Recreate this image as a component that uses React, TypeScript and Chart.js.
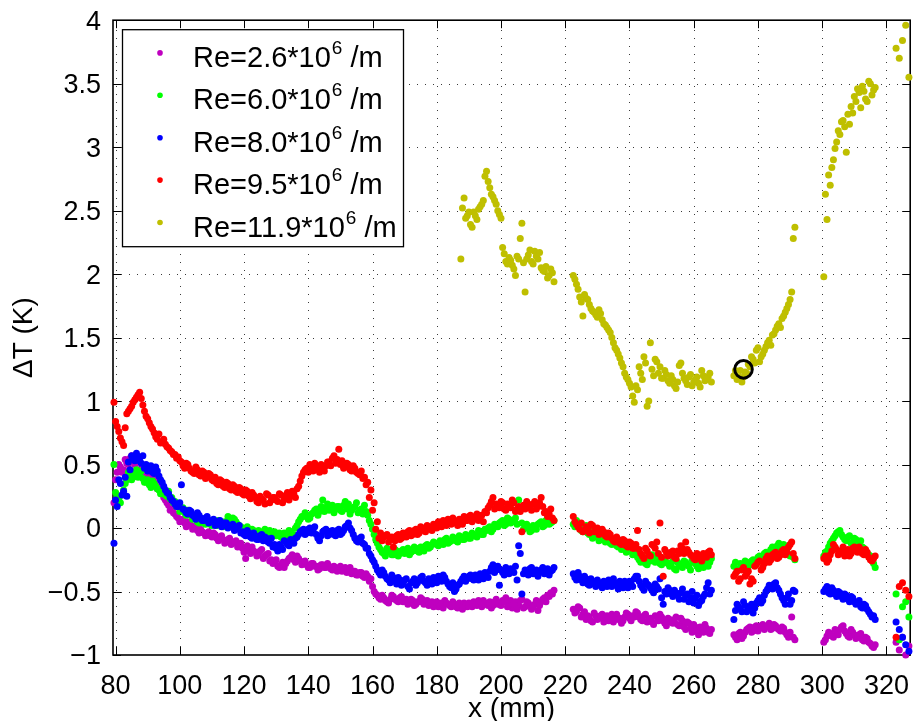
import React, { useEffect, useRef } from 'react';
import { Chart, registerables } from 'chart.js';

Chart.register(...registerables);

const FONT = "'Liberation Sans', Arial, Helvetica, sans-serif";

// ---------- axes ----------
const xMin = 79.2;
const xMax = 327.4;
const yMin = -1;
const yMax = 4;
const xTicks = [80, 100, 120, 140, 160, 180, 200, 220, 240, 260, 280, 300, 320];
const xTickLabels = ['80', '100', '120', '140', '160', '180', '200', '220', '240', '260', '280', '300', '320'];
const yTicks = [-1, -0.5, 0, 0.5, 1, 1.5, 2, 2.5, 3, 3.5, 4];
const yTickLabels = ['\u22121', '\u22120.5', '0', '0.5', '1', '1.5', '2', '2.5', '3', '3.5', '4'];
const xTitle = 'x (mm)';
const yTitle = '\u0394T (K)';

// ---------- legend ----------
const reValues = ['2.6', '6.0', '8.0', '9.5', '11.9'];
const seriesColors = ['rgb(191,0,191)', 'rgb(0,255,0)', 'rgb(0,0,255)', 'rgb(255,0,0)', 'rgb(191,191,0)'];

// ---------- measurement positions (mm), first pass ----------
const xA = [
  79.5, 80.5, 81.5, 82.5, 83.5, 84.5, 85.5, 86.5, 87.5, 88.5,
  89.5, 90.5, 91.5, 92.5, 93.5, 94.5, 95.5, 96.5, 97.5, 98.5,
  99.5, 100.5, 101.5, 102.5, 103.5, 104.5, 105.5, 106.5, 107.5, 108.5,
  109.5, 110.5, 111.5, 112.5, 113.5, 114.5, 115.5, 116.5, 117.5, 118.5,
  119.5, 120.5, 121.5, 122.5, 123.5, 124.5, 125.5, 126.5, 127.5, 128.5,
  129.5, 130.5, 131.5, 132.5, 133.5, 134.5, 135.5, 136.5, 137.5, 138.5,
  139.5, 140.5, 141.5, 142.5, 143.5, 144.5, 145.5, 146.5, 147.5, 148.5,
  149.5, 150.5, 151.5, 152.5, 153.5, 154.5, 155.5, 156.5, 157.5, 158.5,
  159.5, 160.5, 161.5, 162.5, 163.5, 164.5, 165.5, 166.5, 167.5, 168.5,
  169.5, 170.5, 171.5, 172.5, 173.5, 174.5, 175.5, 176.5, 177.5, 178.5,
  179.5, 180.5, 181.5, 182.5, 183.5, 184.5, 185.5, 186.5, 187.5, 188.5,
  189.5, 190.5, 191.5, 192.5, 193.5, 194.5, 195.5, 196.5, 197.5, 198.5,
  199.5, 200.5, 201.5, 202.5, 203.5, 204.5, 205.5, 206.5, 207.5, 208.5,
  209.5, 210.5, 211.5, 212.5, 213.5, 214.5, 215.5, 216.5,
];
const xB = [
  222.5, 223.5, 224.5, 225.5, 226.5, 227.5, 228.5, 229.5, 230.5, 231.5,
  232.5, 233.5, 234.5, 235.5, 236.5, 237.5, 238.5, 239.5, 240.5, 241.5,
  242.5, 243.5, 244.5, 245.5, 246.5, 247.5, 248.5, 249.5, 250.5, 251.5,
  252.5, 253.5, 254.5, 255.5, 256.5, 257.5, 258.5, 259.5, 260.5, 261.5,
  262.5, 263.5, 264.5, 265.5,
];
const xC = [
  272.5, 273.5, 274.5, 275.5, 276.5, 277.5, 278.5, 279.5, 280.5, 281.5,
  282.5, 283.5, 284.5, 285.5, 286.5, 287.5, 288.5, 289.5, 290.5, 291.5,
];
const xD = [
  300.5, 301.5, 302.5, 303.5, 304.5, 305.5, 306.5, 307.5, 308.5, 309.5,
  310.5, 311.5, 312.5, 313.5, 314.5, 315.5, 316.5,
];
const xE = [323, 324, 325, 326, 327];

// ---------- measurement positions (mm), second pass ----------
const xA2 = [
  80, 81, 82, 83, 84, 85, 86, 87, 88, 89,
  90, 91, 92, 93, 94, 95, 96, 97, 98, 99,
  100, 101, 102, 103, 104, 105, 106, 107, 108, 109,
  110, 111, 112, 113, 114, 115, 116, 117, 118, 119,
  120, 121, 122, 123, 124, 125, 126, 127, 128, 129,
  130, 131, 132, 133, 134, 135, 136, 137, 138, 139,
  140, 141, 142, 143, 144, 145, 146, 147, 148, 149,
  150, 151, 152, 153, 154, 155, 156, 157, 158, 159,
  160, 161, 162, 163, 164, 165, 166, 167, 168, 169,
  170, 171, 172, 173, 174, 175, 176, 177, 178, 179,
  180, 181, 182, 183, 184, 185, 186, 187, 188, 189,
  190, 191, 192, 193, 194, 195, 196, 197, 198, 199,
  200, 201, 202, 203, 204, 205, 206, 207, 208, 209,
  210, 211, 212, 213, 214, 215, 216,
];
const xB2 = [
  223, 224, 225, 226, 227, 228, 229, 230, 231, 232,
  233, 234, 235, 236, 237, 238, 239, 240, 241, 242,
  243, 244, 245, 246, 247, 248, 249, 250, 251, 252,
  253, 254, 255, 256, 257, 258, 259, 260, 261, 262,
  263, 264, 265,
];
const xC2 = [
  273, 274, 275, 276, 277, 278, 279, 280, 281, 282,
  283, 284, 285, 286, 287, 288, 289, 290, 291,
];
const xD2 = [
  301, 302, 303, 304, 305, 306, 307, 308, 309, 310,
  311, 312, 313, 314, 315, 316,
];

// ---------- Re = 2.6e6 /m (magenta) ----------
const magentaA = [
  0.20, 0.44, 0.48, 0.46, 0.51, 0.55, 0.53, 0.57, 0.52, 0.49,
  0.45, 0.40, 0.37, 0.33, 0.35, 0.28, 0.22, 0.18, 0.15, 0.11,
  0.08, 0.06, 0.04, 0.05, 0.02, 0.00, -0.02, -0.01, -0.04, -0.05,
  -0.06, -0.04, -0.08, -0.07, -0.09, -0.11, -0.08, -0.12, -0.10, -0.13,
  -0.16, -0.24, -0.17, -0.15, -0.19, -0.21, -0.17, -0.22, -0.20, -0.25,
  -0.27, -0.30, -0.29, -0.31, -0.26, -0.23, -0.25, -0.22, -0.26, -0.28,
  -0.29, -0.31, -0.28, -0.30, -0.32, -0.29, -0.31, -0.30, -0.33, -0.31,
  -0.32, -0.34, -0.31, -0.33, -0.36, -0.34, -0.37, -0.35, -0.39, -0.38,
  -0.40, -0.50, -0.53, -0.56, -0.55, -0.58, -0.56, -0.54, -0.57, -0.55,
  -0.58, -0.56, -0.59, -0.57, -0.60, -0.58, -0.56, -0.59, -0.61, -0.58,
  -0.60, -0.62, -0.59, -0.57, -0.60, -0.62, -0.60, -0.63, -0.61, -0.59,
  -0.62, -0.60, -0.58, -0.61, -0.59, -0.57, -0.60, -0.58, -0.61, -0.56,
  -0.59, -0.57, -0.55, -0.60, -0.63, -0.58, -0.61, -0.56, -0.62, -0.59,
  -0.64, -0.60, -0.65, -0.58, -0.55, -0.53, -0.51, -0.49,
];
const magentaA2 = [
  0.38, 0.50, 0.44, 0.54, 0.50, 0.57, 0.50, 0.55, 0.47, 0.44,
  0.41, 0.36, 0.39, 0.31, 0.30, 0.24, 0.20, 0.14, 0.12, 0.09,
  0.05, 0.07, 0.01, 0.03, -0.01, 0.02, -0.04, -0.03, -0.06, -0.03,
  -0.07, -0.05, -0.10, -0.06, -0.12, -0.09, -0.13, -0.11, -0.15, -0.12,
  -0.19, -0.14, -0.20, -0.18, -0.22, -0.18, -0.24, -0.21, -0.26, -0.28,
  -0.25, -0.31, -0.27, -0.28, -0.24, -0.21, -0.27, -0.24, -0.29, -0.26,
  -0.31, -0.28, -0.30, -0.33, -0.29, -0.31, -0.28, -0.32, -0.30, -0.34,
  -0.30, -0.33, -0.35, -0.31, -0.34, -0.37, -0.35, -0.38, -0.36, -0.42,
  -0.46, -0.52, -0.55, -0.53, -0.57, -0.59, -0.53, -0.56, -0.58, -0.54,
  -0.57, -0.60, -0.56, -0.61, -0.58, -0.55, -0.60, -0.57, -0.59, -0.62,
  -0.58, -0.61, -0.63, -0.59, -0.61, -0.58, -0.62, -0.59, -0.64, -0.60,
  -0.59, -0.62, -0.60, -0.57, -0.62, -0.59, -0.61, -0.63, -0.58, -0.60,
  -0.61, -0.58, -0.62, -0.57, -0.60, -0.64, -0.57, -0.63, -0.58, -0.61,
  -0.62, -0.57, -0.61, -0.56, -0.58, -0.54, -0.52,
];
const magentaB = [
  -0.64, -0.66, -0.63, -0.68, -0.72, -0.70, -0.74, -0.69, -0.71, -0.68,
  -0.71, -0.73, -0.68, -0.70, -0.72, -0.75, -0.70, -0.68, -0.73, -0.70,
  -0.67, -0.72, -0.69, -0.74, -0.71, -0.76, -0.70, -0.68, -0.73, -0.77,
  -0.72, -0.75, -0.70, -0.77, -0.73, -0.80, -0.75, -0.82, -0.78, -0.84,
  -0.79, -0.76, -0.82, -0.80,
];
const magentaB2 = [
  -0.67, -0.62, -0.70, -0.66, -0.69, -0.73, -0.67, -0.72, -0.69, -0.74,
  -0.69, -0.72, -0.74, -0.68, -0.71, -0.73, -0.67, -0.71, -0.69, -0.66,
  -0.70, -0.73, -0.68, -0.72, -0.74, -0.69, -0.73, -0.70, -0.75, -0.71,
  -0.74, -0.72, -0.76, -0.71, -0.78, -0.74, -0.79, -0.76, -0.81, -0.78,
  -0.82, -0.79, -0.83,
];
const magentaC = [
  -0.84, -0.88, -0.82, -0.85, -0.80, -0.78, -0.81, -0.77, -0.79, -0.76,
  -0.78, -0.75, -0.79, -0.77, -0.80, -0.78, -0.82, -0.86, -0.70, -0.88,
];
const magentaC2 = [
  -0.86, -0.83, -0.87, -0.82, -0.79, -0.82, -0.78, -0.81, -0.77, -0.80,
  -0.77, -0.80, -0.76, -0.79, -0.81, -0.79, -0.84, -0.82, -0.86,
];
const magentaD = [
  -0.90, -0.85, -0.83, -0.86, -0.82, -0.80, -0.77, -0.83, -0.86, -0.82,
  -0.87, -0.84, -0.88, -0.86, -0.90, -0.93, -0.92,
];
const magentaD2 = [
  -0.88, -0.82, -0.85, -0.80, -0.84, -0.78, -0.81, -0.85, -0.80, -0.84,
  -0.86, -0.83, -0.89, -0.87, -0.91, -0.94,
];
const magentaE = [-0.90, -0.96, -0.86, -1.0, -0.93];

// ---------- Re = 6.0e6 /m (green) ----------
const greenA = [
  0.50, 0.25, 0.20, 0.30, 0.38, 0.42, 0.40, 0.46, 0.42, 0.39,
  0.36, 0.34, 0.37, 0.33, 0.30, 0.28, 0.26, 0.29, 0.24, 0.21,
  0.18, 0.15, 0.12, 0.14, 0.10, 0.08, 0.05, 0.07, 0.04, 0.06,
  0.03, 0.05, 0.02, 0.04, 0.01, 0.03, 0.06, 0.08, 0.05, 0.02,
  0.00, -0.02, -0.04, -0.01, -0.03, -0.02, -0.05, -0.01, -0.04, -0.06,
  -0.03, -0.05, -0.07, -0.04, -0.06, -0.03, -0.05, 0.02, 0.07, 0.09,
  0.10, 0.08, 0.12, 0.15, 0.13, 0.22, 0.16, 0.14, 0.18, 0.15,
  0.17, 0.13, 0.21, 0.19, 0.14, 0.17, 0.12, 0.15, 0.18, 0.10,
  0.03, -0.05, -0.12, -0.17, -0.20, -0.16, -0.19, -0.21, -0.18, -0.20,
  -0.17, -0.19, -0.21, -0.18, -0.16, -0.19, -0.17, -0.14, -0.16, -0.13,
  -0.12, -0.14, -0.11, -0.09, -0.12, -0.10, -0.08, -0.11, -0.07, -0.09,
  -0.06, -0.08, -0.05, -0.07, -0.03, -0.05, -0.02, 0.01, -0.01, 0.02,
  0.04, 0.06, 0.03, 0.07, 0.05, 0.08, 0.22, 0.04, 0.02, 0.00,
  -0.02, 0.01, 0.03, 0.05, 0.02, 0.07, 0.04, 0.06,
];
const greenA2 = [
  0.28, 0.22, 0.26, 0.35, 0.44, 0.38, 0.44, 0.40, 0.45, 0.36,
  0.38, 0.32, 0.35, 0.31, 0.27, 0.31, 0.25, 0.23, 0.20, 0.17,
  0.13, 0.16, 0.10, 0.12, 0.07, 0.09, 0.04, 0.06, 0.03, 0.05,
  0.02, 0.04, 0.06, 0.02, 0.05, 0.09, 0.04, 0.07, 0.03, 0.01,
  -0.03, 0.01, -0.05, -0.02, -0.06, -0.03, -0.07, -0.04, -0.02, -0.05,
  -0.06, -0.04, -0.08, -0.05, -0.02, -0.07, 0.00, 0.05, 0.09, 0.12,
  0.07, 0.11, 0.14, 0.10, 0.17, 0.13, 0.19, 0.16, 0.12, 0.17,
  0.14, 0.18, 0.15, 0.11, 0.16, 0.20, 0.14, 0.11, 0.13, 0.06,
  -0.01, -0.09, -0.15, -0.19, -0.22, -0.18, -0.21, -0.17, -0.22, -0.18,
  -0.20, -0.16, -0.19, -0.15, -0.18, -0.15, -0.18, -0.13, -0.15, -0.11,
  -0.13, -0.10, -0.13, -0.08, -0.11, -0.07, -0.10, -0.06, -0.09, -0.05,
  -0.08, -0.04, -0.06, -0.02, -0.05, -0.01, 0.00, -0.03, 0.03, 0.01,
  0.05, 0.02, 0.08, 0.04, 0.06, 0.03, 0.15, -0.01, 0.03, -0.03,
  0.02, -0.01, 0.04, 0.01, 0.06, 0.03, 0.05,
];
const greenB = [
  0.03, 0.06, 0.00, -0.03, 0.02, -0.05, -0.08, -0.06, -0.10, -0.07,
  -0.11, -0.09, -0.13, -0.10, -0.15, -0.17, -0.14, -0.18, -0.16, -0.20,
  -0.23, -0.27, -0.24, -0.29, -0.26, -0.22, -0.25, -0.28, -0.24, -0.27,
  -0.30, -0.26, -0.33, -0.29, -0.31, -0.27, -0.30, -0.25, -0.28, -0.32,
  -0.29, -0.26, -0.30, -0.24,
];
const greenB2 = [
  0.01, 0.04, -0.02, 0.00, -0.04, -0.02, -0.07, -0.04, -0.09, -0.06,
  -0.08, -0.12, -0.10, -0.14, -0.12, -0.16, -0.19, -0.15, -0.21, -0.18,
  -0.25, -0.22, -0.28, -0.24, -0.21, -0.27, -0.23, -0.29, -0.26, -0.28,
  -0.28, -0.32, -0.27, -0.30, -0.26, -0.29, -0.33, -0.27, -0.30, -0.27,
  -0.31, -0.28, -0.27,
];
const greenC = [
  -0.30, -0.33, -0.28, -0.31, -0.27, -0.29, -0.25, -0.27, -0.22, -0.24,
  -0.19, -0.21, -0.15, -0.17, -0.12, -0.16, -0.19, -0.14, -0.21, -0.25,
];
const greenC2 = [
  -0.27, -0.32, -0.29, -0.26, -0.30, -0.26, -0.28, -0.23, -0.26, -0.20,
  -0.22, -0.17, -0.19, -0.14, -0.18, -0.13, -0.17, -0.22, -0.23,
];
const greenD = [
  -0.22, -0.18, -0.12, -0.08, -0.04, -0.02, -0.07, -0.10, -0.06, -0.11,
  -0.09, -0.13, -0.15, -0.18, -0.21, -0.24, -0.31,
];
const greenD2 = [
  -0.19, -0.15, -0.10, -0.06, -0.03, -0.05, -0.09, -0.07, -0.12, -0.08,
  -0.12, -0.10, -0.16, -0.20, -0.22, -0.28,
];
const greenE = [-0.52, -0.88, -0.62, -0.58, -0.70];

// ---------- Re = 8.0e6 /m (blue) ----------
const blueA = [
  -0.12, 0.17, 0.35, 0.29, 0.25, 0.46, 0.55, 0.59, 0.53, 0.57,
  0.50, 0.47, 0.44, 0.48, 0.41, 0.36, 0.30, 0.27, 0.22, 0.19,
  0.17, 0.34, 0.14, 0.11, 0.13, 0.09, 0.12, 0.08, 0.06, 0.09,
  0.05, 0.07, 0.03, 0.06, 0.02, 0.04, 0.01, 0.03, -0.01, 0.02,
  -0.03, -0.06, -0.04, -0.08, -0.06, -0.09, -0.05, -0.07, -0.11, -0.08,
  -0.13, -0.18, -0.15, -0.10, -0.13, -0.09, -0.12, -0.07, -0.03, -0.01,
  -0.04, 0.00, -0.02, -0.05, -0.10, -0.03, -0.01, -0.05, -0.02, -0.06,
  -0.01, -0.04, 0.01, 0.04, -0.02, -0.08, -0.11, -0.07, -0.13, -0.16,
  -0.22, -0.27, -0.33, -0.37, -0.35, -0.40, -0.43, -0.39, -0.44, -0.41,
  -0.44, -0.40, -0.48, -0.42, -0.45, -0.41, -0.38, -0.43, -0.40, -0.44,
  -0.41, -0.38, -0.42, -0.39, -0.44, -0.47, -0.50, -0.45, -0.42, -0.38,
  -0.40, -0.37, -0.41, -0.39, -0.36, -0.40, -0.38, -0.34, -0.29, -0.33,
  -0.45, -0.35, -0.31, -0.36, -0.33, -0.30, -0.14, -0.52, -0.33, -0.37,
  -0.31, -0.35, -0.38, -0.33, -0.36, -0.32, -0.34, -0.31,
];
const blueA2 = [
  0.22, 0.38, 0.26, 0.40, 0.52, 0.57, 0.53, 0.56, 0.51, 0.47,
  0.45, 0.49, 0.43, 0.45, 0.38, 0.33, 0.28, 0.24, 0.21, 0.17,
  0.20, 0.15, 0.12, 0.14, 0.10, 0.07, 0.10, 0.06, 0.08, 0.04,
  0.06, 0.02, 0.05, 0.01, 0.04, 0.00, 0.02, -0.02, 0.01, -0.04,
  -0.05, -0.02, -0.07, -0.04, -0.09, -0.06, -0.10, -0.08, -0.12, -0.15,
  -0.16, -0.13, -0.17, -0.11, -0.14, -0.10, -0.08, -0.05, -0.02, -0.05,
  -0.01, -0.04, 0.01, -0.08, -0.06, -0.02, -0.06, -0.03, -0.05, -0.02,
  -0.05, -0.02, 0.02, 0.00, -0.05, -0.10, -0.08, -0.12, -0.16, -0.20,
  -0.25, -0.30, -0.35, -0.33, -0.38, -0.41, -0.37, -0.42, -0.39, -0.45,
  -0.41, -0.46, -0.43, -0.40, -0.43, -0.39, -0.42, -0.45, -0.41, -0.39,
  -0.43, -0.40, -0.37, -0.42, -0.46, -0.43, -0.48, -0.44, -0.40, -0.42,
  -0.38, -0.40, -0.37, -0.41, -0.38, -0.35, -0.39, -0.31, -0.35, -0.30,
  -0.33, -0.37, -0.34, -0.32, -0.35, -0.41, -0.20, -0.36, -0.35, -0.32,
  -0.36, -0.33, -0.35, -0.31, -0.34, -0.37, -0.33,
];
const blueB = [
  -0.36, -0.41, -0.38, -0.43, -0.40, -0.45, -0.42, -0.46, -0.43, -0.47,
  -0.44, -0.41, -0.46, -0.43, -0.48, -0.45, -0.42, -0.47, -0.44, -0.40,
  -0.38, -0.45, -0.49, -0.44, -0.47, -0.51, -0.46, -0.40, -0.60, -0.52,
  -0.49, -0.54, -0.51, -0.56, -0.48, -0.53, -0.58, -0.50, -0.55, -0.61,
  -0.57, -0.52, -0.43, -0.49,
];
const blueB2 = [
  -0.39, -0.35, -0.41, -0.38, -0.44, -0.40, -0.44, -0.41, -0.45, -0.42,
  -0.46, -0.43, -0.40, -0.45, -0.42, -0.47, -0.44, -0.42, -0.46, -0.38,
  -0.42, -0.47, -0.42, -0.45, -0.49, -0.44, -0.48, -0.55, -0.50, -0.47,
  -0.52, -0.49, -0.53, -0.51, -0.56, -0.52, -0.55, -0.59, -0.53, -0.58,
  -0.54, -0.47, -0.52,
];
const blueC = [
  -0.72, -0.60, -0.64, -0.58, -0.66, -0.62, -0.67, -0.59, -0.55, -0.57,
  -0.50, -0.45, -0.48, -0.43, -0.49, -0.55, -0.60, -0.52, -0.57, -0.50,
];
const blueC2 = [
  -0.65, -0.62, -0.66, -0.61, -0.64, -0.60, -0.63, -0.57, -0.59, -0.53,
  -0.48, -0.47, -0.44, -0.47, -0.52, -0.57, -0.55, -0.60, -0.49,
];
const blueD = [
  -0.50, -0.46, -0.52, -0.49, -0.54, -0.51, -0.56, -0.53, -0.58, -0.55,
  -0.60, -0.57, -0.63, -0.61, -0.66, -0.70, -0.72,
];
const blueD2 = [
  -0.48, -0.51, -0.47, -0.52, -0.50, -0.54, -0.52, -0.56, -0.54, -0.58,
  -0.59, -0.62, -0.60, -0.64, -0.68, -0.69,
];
const blueE = [-0.74, -0.80, -0.86, -0.92, -0.97];

// ---------- Re = 9.5e6 /m (red) ----------
const redA = [
  0.99, 0.80, 0.71, 0.65, 0.90, 0.94, 0.99, 1.03, 1.07, 0.97,
  0.88, 0.83, 0.78, 0.72, 0.74, 0.68, 0.66, 0.63, 0.60, 0.58,
  0.56, 0.52, 0.47, 0.50, 0.45, 0.43, 0.46, 0.41, 0.44, 0.40,
  0.42, 0.37, 0.35, 0.38, 0.33, 0.36, 0.31, 0.34, 0.29, 0.32,
  0.27, 0.30, 0.25, 0.28, 0.24, 0.20, 0.23, 0.19, 0.26, 0.22,
  0.24, 0.21, 0.26, 0.23, 0.28, 0.25, 0.27, 0.31, 0.37, 0.44,
  0.47, 0.50, 0.45, 0.48, 0.44, 0.47, 0.49, 0.52, 0.55, 0.51,
  0.62, 0.53, 0.48, 0.50, 0.45, 0.47, 0.43, 0.45, 0.40, 0.36,
  0.30, 0.20, 0.05, -0.04, -0.07, -0.05, -0.08, -0.15, -0.06, -0.09,
  -0.04, -0.07, -0.02, -0.05, -0.01, -0.04, 0.00, -0.03, 0.01, -0.02,
  0.02, 0.05, 0.01, 0.04, 0.07, 0.03, 0.05, 0.02, 0.06, 0.09,
  0.06, 0.10, 0.07, 0.11, 0.08, 0.05, 0.12, 0.18, 0.24, 0.19,
  0.16, 0.20, 0.14, 0.18, 0.22, 0.13, 0.17, -0.03, 0.15, 0.19,
  0.14, 0.21, 0.17, 0.24, 0.12, 0.09, 0.15, 0.06,
];
const redA2 = [
  0.84, 0.76, 0.68, 0.79, 0.92, 0.96, 1.01, 1.05, 1.02, 0.92,
  0.86, 0.80, 0.75, 0.70, 0.67, 0.70, 0.64, 0.61, 0.58, 0.55,
  0.53, 0.49, 0.51, 0.47, 0.44, 0.48, 0.42, 0.45, 0.39, 0.43,
  0.38, 0.40, 0.34, 0.37, 0.32, 0.35, 0.30, 0.33, 0.28, 0.31,
  0.26, 0.29, 0.23, 0.26, 0.21, 0.25, 0.22, 0.27, 0.20, 0.24,
  0.22, 0.27, 0.20, 0.25, 0.22, 0.29, 0.24, 0.33, 0.41, 0.46,
  0.44, 0.48, 0.51, 0.46, 0.50, 0.45, 0.52, 0.49, 0.57, 0.54,
  0.50, 0.47, 0.51, 0.46, 0.49, 0.44, 0.42, 0.39, 0.34, 0.24,
  0.14, -0.01, -0.08, -0.10, -0.06, -0.11, -0.07, -0.10, -0.05, -0.08,
  -0.06, -0.03, -0.06, -0.02, -0.05, 0.01, -0.02, 0.02, -0.01, 0.03,
  0.00, 0.03, 0.06, 0.02, 0.05, 0.08, 0.04, 0.07, 0.03, 0.06,
  0.09, 0.05, 0.09, 0.06, 0.10, 0.13, 0.16, 0.21, 0.15, 0.18,
  0.21, 0.15, 0.19, 0.16, 0.20, 0.15, 0.13, 0.18, 0.21, 0.16,
  0.19, 0.15, 0.20, 0.17, 0.13, 0.11, 0.08,
];
const redB = [
  0.09, 0.03, -0.01, -0.03, 0.01, -0.04, 0.02, -0.02, -0.05, -0.01,
  -0.06, -0.04, -0.08, -0.11, -0.09, -0.13, -0.10, -0.15, -0.12, -0.16,
  -0.02, -0.20, -0.24, -0.18, -0.22, -0.14, -0.11, 0.04, -0.38, -0.19,
  -0.21, -0.18, -0.24, -0.20, -0.16, -0.11, -0.19, -0.22, -0.25, -0.23,
  -0.26, -0.22, -0.19, -0.21,
];
const redB2 = [
  0.05, 0.01, 0.04, -0.02, -0.01, 0.03, -0.03, 0.00, -0.04, -0.03,
  -0.07, -0.05, -0.10, -0.07, -0.12, -0.09, -0.14, -0.11, -0.16, -0.13,
  -0.17, -0.22, -0.16, -0.21, -0.13, -0.16, -0.20, -0.23, -0.17, -0.22,
  -0.19, -0.23, -0.18, -0.14, -0.20, -0.17, -0.21, -0.24, -0.20, -0.24,
  -0.20, -0.23, -0.18,
];
const redC = [
  -0.38, -0.34, -0.40, -0.31, -0.36, -0.44, -0.42, -0.29, -0.26, -0.31,
  -0.24, -0.27, -0.21, -0.19, -0.23, -0.18, -0.21, -0.15, -0.11, -0.24,
];
const redC2 = [
  -0.36, -0.42, -0.33, -0.38, -0.34, -0.40, -0.30, -0.27, -0.33, -0.28,
  -0.22, -0.25, -0.20, -0.24, -0.21, -0.17, -0.19, -0.13, -0.20,
];
const redD = [
  -0.24, -0.27, -0.21, -0.13, -0.17, -0.20, -0.15, -0.19, -0.22, -0.16,
  -0.18, -0.15, -0.20, -0.17, -0.23, -0.26, -0.22,
];
const redD2 = [
  -0.22, -0.25, -0.18, -0.15, -0.21, -0.18, -0.22, -0.17, -0.20, -0.15,
  -0.19, -0.17, -0.21, -0.19, -0.25, -0.24,
];
const redE = [-0.86, -0.46, -0.43, -0.49, -0.54];

// ---------- Re = 11.9e6 /m (olive) ----------
const yellowA = [
  2.12, 2.60, 2.46, 2.39, 2.49, 2.43, 2.53, 2.58, 2.81, 2.68,
  2.61, 2.55, 2.47, 2.21, 2.10, 2.13, 2.07, 1.99, 2.12, 2.40,
  1.86, 2.15, 2.10, 2.18, 2.12, 2.05, 2.02, 1.97, 2.04, 1.94,
];
const yellowA2 = [
  2.52, 2.44, 2.49, 2.37, 2.46, 2.51, 2.55, 2.77, 2.73, 2.63,
  2.58, 2.50, 2.44, 2.16, 2.08, 2.11, 2.04, 2.14, 2.28, 2.09,
  2.12, 2.19, 2.08, 2.14, 2.17, 2.03, 2.06, 1.99, 2.01,
];
const yellowB = [
  1.99, 1.92, 1.82, 1.67, 1.81, 1.76, 1.71, 1.68, 1.72, 1.64,
  1.60, 1.56, 1.50, 1.42, 1.37, 1.30, 1.22, 1.17, 1.11, 0.99,
  1.09, 1.22, 1.35, 0.96, 1.46, 1.20, 1.31, 1.27, 1.18, 1.21,
  1.14, 1.17, 1.10, 1.28, 1.22, 1.16, 1.19, 1.12, 1.17, 1.14,
  1.24, 1.16, 1.19, 1.15,
];
const yellowB2 = [
  1.96, 1.88, 1.78, 1.84, 1.80, 1.73, 1.70, 1.66, 1.69, 1.61,
  1.58, 1.54, 1.46, 1.40, 1.34, 1.27, 1.19, 1.14, 1.04, 1.12,
  1.27, 1.17, 1.30, 1.00, 1.25, 1.33, 1.22, 1.18, 1.24, 1.16,
  1.20, 1.12, 1.15, 1.30, 1.18, 1.13, 1.21, 1.15, 1.19, 1.11,
  1.20, 1.18, 1.22,
];
const yellowC = [
  1.20, 1.17, 1.24, 1.19, 1.22, 1.27, 1.33, 1.40, 1.31, 1.37,
  1.43, 1.48, 1.52, 1.56, 1.61, 1.65, 1.70, 1.76, 1.86, 2.37,
];
const yellowC2 = [
  1.24, 1.19, 1.15, 1.23, 1.29, 1.35, 1.30, 1.42, 1.35, 1.40,
  1.46, 1.44, 1.53, 1.59, 1.58, 1.67, 1.73, 1.80, 2.28,
];
const yellowD = [
  1.98, 2.43, 2.70, 2.90, 3.04, 3.10, 3.21, 2.96, 3.18, 3.27,
  3.36, 3.43, 3.48, 3.38, 3.52, 3.41, 3.47,
];
const yellowD2 = [
  2.63, 2.78, 2.84, 2.99, 3.13, 3.20, 3.16, 3.26, 3.32, 3.40,
  3.46, 3.31, 3.44, 3.36, 3.50, 3.45,
];
const yellowE = [3.78, 3.70, 3.84, 3.96, 3.55];

// ---------- highlighted point ----------
const markX = [275.5];
const markY = [1.25];

type Pt = { x: number; y: number };
function zip(xs: number[], ys: number[]): Pt[] {
  const n = Math.min(xs.length, ys.length);
  const out: Pt[] = [];
  for (let i = 0; i < n; i++) out.push({ x: xs[i], y: ys[i] });
  return out;
}
function series(parts: [number[], number[]][]): Pt[] {
  return parts.reduce((acc: Pt[], [xs, ys]) => acc.concat(zip(xs, ys)), []);
}

const xYellowA = xA.slice(xA.indexOf(187.5));
const xYellowA2 = xA2.slice(xA2.indexOf(188));

const seriesData: Pt[][] = [
  series([[xA, magentaA], [xA2, magentaA2], [xB, magentaB], [xB2, magentaB2], [xC, magentaC], [xC2, magentaC2], [xD, magentaD], [xD2, magentaD2], [xE, magentaE]]),
  series([[xA, greenA], [xA2, greenA2], [xB, greenB], [xB2, greenB2], [xC, greenC], [xC2, greenC2], [xD, greenD], [xD2, greenD2], [xE, greenE]]),
  series([[xA, blueA], [xA2, blueA2], [xB, blueB], [xB2, blueB2], [xC, blueC], [xC2, blueC2], [xD, blueD], [xD2, blueD2], [xE, blueE]]),
  series([[xA, redA], [xA2, redA2], [xB, redB], [xB2, redB2], [xC, redC], [xC2, redC2], [xD, redD], [xD2, redD2], [xE, redE]]),
  series([[xYellowA, yellowA], [xYellowA2, yellowA2], [xB, yellowB], [xB2, yellowB2], [xC, yellowC], [xC2, yellowC2], [xD, yellowD], [xD2, yellowD2], [xE, yellowE]]),
];

const framePlugin = {
  id: 'matlabFrame',
  beforeDatasetsDraw(chart: any) {
    const { ctx, chartArea: a, scales } = chart;
    const xs = scales.x;
    const ys = scales.y;
    ctx.save();
    const line = (x1: number, y1: number, x2: number, y2: number) => {
      ctx.beginPath();
      ctx.moveTo(x1, y1);
      ctx.lineTo(x2, y2);
      ctx.stroke();
    };
    // dotted grid
    ctx.strokeStyle = '#3a3a3a';
    ctx.lineWidth = 1;
    ctx.setLineDash([1, 7]);
    xTicks.forEach((v) => {
      const p = Math.round(xs.getPixelForValue(v)) + 0.5;
      if (p <= a.left + 1 || p >= a.right - 1) return;
      line(p, a.bottom, p, a.top);
    });
    yTicks.forEach((v) => {
      const p = Math.round(ys.getPixelForValue(v)) + 0.5;
      if (p <= a.top + 1 || p >= a.bottom - 1) return;
      line(a.left, p, a.right, p);
    });
    ctx.setLineDash([]);
    // inward tick marks on all four sides
    ctx.strokeStyle = '#000';
    ctx.lineWidth = 1;
    const tl = 8;
    xTicks.forEach((v) => {
      const p = Math.round(xs.getPixelForValue(v)) + 0.5;
      line(p, a.bottom, p, a.bottom - tl);
      line(p, a.top, p, a.top + tl);
    });
    yTicks.forEach((v) => {
      const p = Math.round(ys.getPixelForValue(v)) + 0.5;
      line(a.left, p, a.left + tl, p);
      line(a.right, p, a.right - tl, p);
    });
    // box
    ctx.lineWidth = 1.6;
    ctx.strokeRect(a.left, a.top, a.right - a.left, a.bottom - a.top);
    ctx.restore();
  },
  afterDatasetsDraw(chart: any) {
    const { ctx, chartArea: a } = chart;
    ctx.save();
    const bx = a.left + 9.5;
    const by = a.top + 9.5;
    const bw = 281;
    const bh = 217;
    ctx.fillStyle = '#fff';
    ctx.fillRect(bx, by, bw, bh);
    ctx.strokeStyle = '#000';
    ctx.lineWidth = 1.3;
    ctx.strokeRect(bx, by, bw, bh);
    const mainFont = `29px ${FONT}`;
    const supFont = `19px ${FONT}`;
    reValues.forEach((re, i) => {
      const cy = by + 23.2 + i * 42.4;
      ctx.fillStyle = seriesColors[i];
      ctx.beginPath();
      ctx.arc(bx + 37.5, cy, 2.8, 0, Math.PI * 2);
      ctx.fill();
      ctx.fillStyle = '#000';
      ctx.textBaseline = 'alphabetic';
      ctx.textAlign = 'left';
      const base = cy + 14;
      let tx = bx + 70.5;
      const t1 = `Re=${re}*10`;
      ctx.font = mainFont;
      ctx.fillText(t1, tx, base);
      tx += ctx.measureText(t1).width + 1;
      ctx.font = supFont;
      ctx.fillText('6', tx, base - 13);
      tx += ctx.measureText('6').width;
      ctx.font = mainFont;
      ctx.fillText(' /m', tx, base);
    });
    ctx.restore();
  },
};

export default function App() {
  const ref = useRef<HTMLCanvasElement | null>(null);
  useEffect(() => {
    const canvas = ref.current;
    if (!canvas) return;
    const datasets: any[] = seriesData.map((d, i) => ({
      label: `Re=${reValues[i]}*10\u2076 /m`,
      data: d,
      backgroundColor: seriesColors[i],
      borderColor: seriesColors[i],
      pointRadius: 3.5,
      pointBorderWidth: 0,
      pointHoverRadius: 3.5,
      showLine: false,
      clip: false,
      order: 10 - i,
    }));
    datasets.push({
      label: 'marked point',
      data: zip(markX, markY),
      backgroundColor: 'rgba(0,0,0,0)',
      borderColor: '#000',
      pointRadius: 8.8,
      pointBorderWidth: 3,
      pointHoverRadius: 8.8,
      showLine: false,
      clip: false,
      order: 0,
    });
    const chart = new Chart(canvas, {
      type: 'scatter',
      data: { datasets },
      plugins: [framePlugin],
      options: {
        animation: false,
        responsive: false,
        devicePixelRatio: 1,
        events: [],
        layout: { padding: { left: 0, right: 2, top: 20, bottom: 0 } },
        plugins: {
          legend: { display: false },
          tooltip: { enabled: false },
          title: { display: false },
        },
        scales: {
          x: {
            type: 'linear',
            min: xMin,
            max: xMax,
            grid: { display: false },
            border: { display: false },
            afterBuildTicks: (s: any) => {
              s.ticks = xTicks.map((v) => ({ value: v }));
            },
            afterFit: (s: any) => {
              s.height = 66;
            },
            ticks: {
              autoSkip: false,
              maxRotation: 0,
              minRotation: 0,
              padding: 7,
              color: '#000',
              font: { family: FONT, size: 27 },
              callback: (_v: any, idx: number) => xTickLabels[idx],
            },
            title: {
              display: true,
              text: xTitle,
              color: '#000',
              font: { family: FONT, size: 28, lineHeight: 0.8 },
              padding: { top: 0, bottom: 1 },
            },
          },
          y: {
            type: 'linear',
            min: yMin,
            max: yMax,
            grid: { display: false },
            border: { display: false },
            afterBuildTicks: (s: any) => {
              s.ticks = yTicks.map((v) => ({ value: v }));
            },
            afterFit: (s: any) => {
              s.width = 113;
            },
            ticks: {
              autoSkip: false,
              padding: 4,
              labelOffset: 2,
              color: '#000',
              font: { family: FONT, size: 27 },
              callback: (_v: any, idx: number) => yTickLabels[idx],
            },
            title: {
              display: true,
              text: yTitle,
              color: '#000',
              font: { family: FONT, size: 28, lineHeight: 1 },
              padding: { top: 10, bottom: 0 },
            },
          },
        },
      } as any,
    });
    return () => chart.destroy();
  }, []);
  return (
    <div style={{ position: 'absolute', left: 0, top: 0, width: 922, height: 721, background: '#fff' }}>
      <canvas ref={ref} width={922} height={721} style={{ display: 'block', width: 922, height: 721 }} />
    </div>
  );
}
